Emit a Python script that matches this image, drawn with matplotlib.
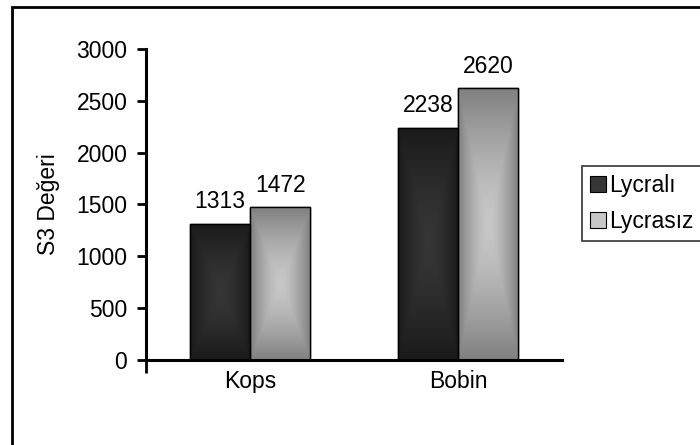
import numpy as np
import matplotlib.pyplot as plt
from matplotlib.patches import Rectangle, Patch

plt.rcParams['font.family'] = ['Liberation Sans', 'DejaVu Sans']

categories = ["Kops", "Bobin"]
series_names = ["Lycralı", "Lycrasız"]
lycrali = [1313, 2238]
lycrasiz = [1472, 2620]
yticks = [0, 500, 1000, 1500, 2000, 2500, 3000]

# (edge colour, centre colour) of the rectangular gradient in each series
shades = [((0.10, 0.10, 0.10), (0.21, 0.21, 0.21)),
          ((0.50, 0.50, 0.50), (0.78, 0.78, 0.78))]

FS = 16.5


def rect_gradient(edge, centre, n=200):
    # distance from the centre measured as a rectangle (max of |u|, |v|)
    u = np.linspace(-1, 1, n)
    uu, vv = np.meshgrid(u, u)
    t = np.maximum(np.abs(uu), np.abs(vv)) ** 1.5
    edge = np.array(edge)
    centre = np.array(centre)
    return centre[None, None, :] * (1 - t[..., None]) + edge[None, None, :] * t[..., None]


fig = plt.figure(figsize=(7, 4.45), dpi=100)
ax = fig.add_axes([0.2086, 0.191, 0.5944, 0.699])

x = np.arange(len(categories))
width = 0.29
groups = [lycrali, lycrasiz]
for i, vals in enumerate(groups):
    offs = (i - 0.5) * width
    bars = ax.bar(x + offs, vals, width, color=shades[i][1], edgecolor='black',
                  linewidth=1.0, zorder=2)
    img = rect_gradient(*shades[i])
    for b, v in zip(bars, vals):
        x0, y0 = b.get_x(), b.get_y()
        im = ax.imshow(img, extent=[x0, x0 + b.get_width(), y0, y0 + b.get_height()],
                       aspect='auto', zorder=2.5, interpolation='bilinear')
        im.set_clip_path(b)
        edge = Rectangle((x0, y0), b.get_width(), b.get_height(), fill=False,
                         edgecolor='black', linewidth=1.0, zorder=3)
        ax.add_patch(edge)
        ax.text(b.get_x() + b.get_width() / 2, v + 150, str(v), ha='center',
                va='baseline', fontsize=FS, zorder=4)

ax.set_xlim(-0.5, len(categories) - 0.5)
ax.set_ylim(0, 3000)
ax.set_yticks(yticks)
ax.set_yticklabels([str(t) for t in yticks], fontsize=FS)
ax.tick_params(axis='y', length=6.5, width=2, pad=7, color='black')

# a single tick below the axis origin, labels at category centres
ax.set_xticks([-0.5])
ax.set_xticklabels([])
ax.set_xticks(x, minor=True)
ax.set_xticklabels(categories, minor=True, fontsize=FS)
ax.tick_params(axis='x', which='major', length=9, width=2, direction='out')
ax.tick_params(axis='x', which='minor', length=0, pad=7)

for s in ['top', 'right']:
    ax.spines[s].set_visible(False)
for s in ['left', 'bottom']:
    ax.spines[s].set_linewidth(2.2)
ax.set_ylabel("S3 Değeri", fontsize=FS, labelpad=12)

handles = [Patch(facecolor=shades[0][1], edgecolor='black', linewidth=0.8),
           Patch(facecolor=shades[1][1], edgecolor='black', linewidth=0.8)]
leg = fig.legend(handles, series_names, loc='upper left',
                 bbox_to_anchor=(0.831, 0.628), fontsize=FS, frameon=True,
                 fancybox=False, handlelength=0.7, handleheight=0.7,
                 handletextpad=0.15, borderpad=0.35, labelspacing=0.6,
                 borderaxespad=0)
leg.get_frame().set_edgecolor('black')
leg.get_frame().set_linewidth(1.2)

# outer chart frame, open at the right and bottom edges
fig.patches.append(Rectangle((12 / 700, -0.05), 1.1, 0.984 + 0.05, fill=False,
                             edgecolor='black', linewidth=2,
                             transform=fig.transFigure, figure=fig))

fig.savefig("out.png", dpi=100)
